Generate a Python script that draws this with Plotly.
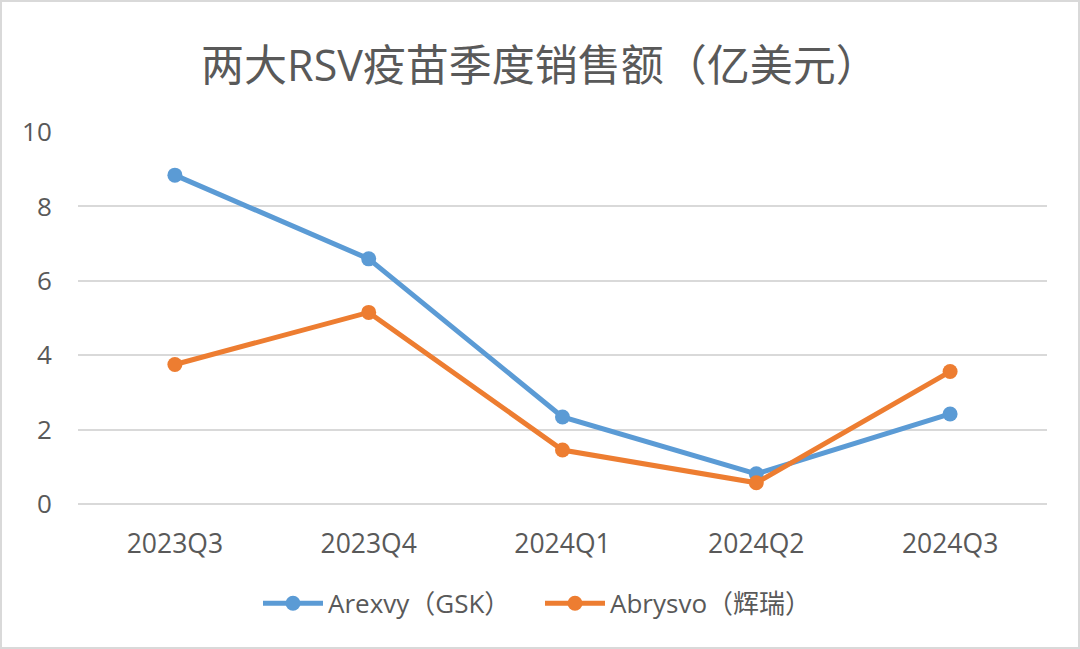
import plotly.graph_objects as go

quarters = ["2023Q3", "2023Q4", "2024Q1", "2024Q2", "2024Q3"]
arexvy = [8.84, 6.59, 2.34, 0.81, 2.42]
abrysvo = [3.75, 5.15, 1.45, 0.57, 3.56]

blue = "#5B9BD5"
orange = "#ED7D31"
grey_text = "#595959"
font = "Open Sans, Noto Sans CJK SC"

fig = go.Figure()
fig.add_trace(go.Scatter(
    x=quarters, y=arexvy, name="Arexvy（GSK）",
    mode="lines+markers",
    line=dict(color=blue, width=5),
    marker=dict(color=blue, size=15),
))
fig.add_trace(go.Scatter(
    x=quarters, y=abrysvo, name="Abrysvo（辉瑞）",
    mode="lines+markers",
    line=dict(color=orange, width=5),
    marker=dict(color=orange, size=15),
))

fig.update_layout(
    width=1080,
    height=649,
    margin=dict(l=78, r=33, t=132, b=145),
    paper_bgcolor="white",
    plot_bgcolor="white",
    font=dict(family=font, color=grey_text, size=26),
    title=dict(
        text="两大RSV疫苗季度销售额（亿美元）",
        font=dict(family=font, size=43, color=grey_text),
        x=0.5, xanchor="center", y=0.898, yanchor="middle",
    ),
    xaxis=dict(
        range=[-0.5, 4.5],
        showgrid=False,
        showline=False,
        ticks="outside", ticklen=16, tickcolor="rgba(0,0,0,0)",
        tickfont=dict(size=26.5),
    ),
    yaxis=dict(
        range=[0, 10],
        dtick=2,
        showgrid=True, gridcolor="#D9D9D9", gridwidth=1.5,
        zeroline=True, zerolinecolor="#D9D9D9", zerolinewidth=1.5,
        ticks="outside", ticklen=20, tickcolor="rgba(0,0,0,0)",
        tickfont=dict(size=26),
    ),
    legend=dict(
        orientation="h",
        x=(258 - 78) / 969, xanchor="left",
        y=-0.267, yanchor="middle",
        font=dict(size=26),
        itemwidth=60,
        entrywidth=207, entrywidthmode="pixels",
    ),
    shapes=[dict(
        type="rect", xref="paper", yref="paper",
        x0=-78 / 969, x1=1 + 33 / 969, y0=-145 / 372, y1=1 + 132 / 372,
        line=dict(color="#D9D9D9", width=4),
    )],
)

fig.write_html(
    "out.html",
    config={"displayModeBar": False},
    post_script="document.body.style.margin='0';",
)
